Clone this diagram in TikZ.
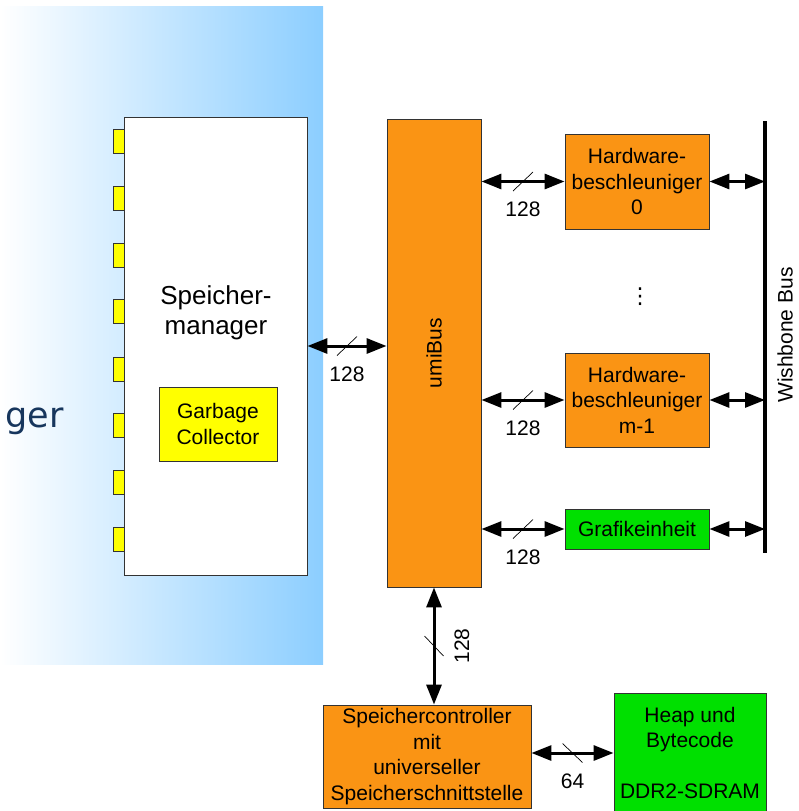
\documentclass[tikz,border=0pt]{standalone}
\usepackage{fontspec}
\setmainfont{Liberation Sans}
\newfontfamily\titlefont{DejaVu Sans}
\usetikzlibrary{arrows.meta,decorations.markings}
\definecolor{cUmi}{RGB}{250,148,20}
\definecolor{cGreen}{RGB}{0,224,0}
\definecolor{cPort}{RGB}{255,255,0}
\definecolor{cSky}{RGB}{140,206,255}
\definecolor{cNavy}{RGB}{23,54,93}

\tikzset{
  box/.style={draw=black!80,line width=0.9pt,align=center,inner sep=0pt},
  obox/.style={box,fill=cUmi},
  gbox/.style={box,fill=cGreen},
  port/.style={box,fill=cPort,minimum width=11pt,minimum height=24pt},
  bus/.style={line width=3pt,{Triangle[length=20pt,width=15pt]}-{Triangle[length=20pt,width=15pt]}},
  slash/.style={postaction={decorate,decoration={markings,
      mark=at position 0.5 with {\draw[line width=0.7pt,-] (-#1,-9.5pt) -- (#1,9.5pt);}}}},
  slash/.default=10pt,
  wlabel/.style={midway,below,inner sep=19pt},
}

\begin{document}
\begin{tikzpicture}[x=1pt,y=-1pt,font=\fontsize{21}{25.5}\selectfont]
  \useasboundingbox (0,0) rectangle (798,811);
  % background of the slide
  \shade[left color=white,right color=cSky] (0,6) rectangle (323,664);
  \node[anchor=base east,inner sep=0pt,text=cNavy,font=\titlefont\fontsize{35}{40}\selectfont] (title) at (64,427) {ger};

  % Speichermanager with its ports
  \node[box,fill=white,minimum width=183pt,minimum height=458pt] (sm) at (215.5,346) {};
  \node[align=center,font=\fontsize{26}{30}\selectfont] (smlabel) at (216,313) {Speicher-\\manager};
  \node[box,fill=cPort,minimum width=118pt,minimum height=74pt] (gc) at (218,424) {Garbage\\Collector};
  \foreach \y [count=\i] in {141,198,255,311,369,425,482,539}
    \node[port] (p\i) at (118.5,\y) {};

  % bus and accelerators
  \node[obox,minimum width=94pt,minimum height=468pt] (umi) at (434,353) {\rotatebox{90}{umiBus}};
  \node[obox,minimum width=144pt,minimum height=95pt] (hw0) at (637,181.5) {Hardware-\\beschleuniger\\0};
  \node[font=\titlefont\fontsize{22}{26}\selectfont] (dots) at (640,297) {⋮};
  \node[obox,minimum width=144pt,minimum height=94pt] (hwm) at (637,400) {Hardware-\\beschleuniger\\m-1};
  \node[gbox,minimum width=144pt,minimum height=40pt] (gfx) at (637,529) {Grafikeinheit};

  \coordinate (wbtop) at (765,121);
  \coordinate (wbbot) at (765,553);
  \draw[line width=3.5pt] (wbtop) -- (wbbot);
  \node (wblabel) at (785,335) {\rotatebox{90}{Wishbone Bus}};

  % memory side
  \node[obox,minimum width=208pt,minimum height=103pt] (ctrl) at (427,756.5) {Speichercontroller\\mit\\universeller\\Speicherschnittstelle};
  \node[gbox,minimum width=152pt,minimum height=120pt] (heap) at (690,753) {Heap und\\Bytecode\\[25.5pt]DDR2-SDRAM};

  % connections
  \draw[bus,slash] (sm.east) -- (sm.east -| umi.west) node[wlabel] {128};
  \draw[bus,slash] (hw0.west -| umi.east) -- (hw0.west) node[wlabel] {128};
  \draw[bus,slash] (hwm.west -| umi.east) -- (hwm.west) node[wlabel] {128};
  \draw[bus,slash] (gfx.west -| umi.east) -- (gfx.west) node[wlabel] {128};
  \draw[bus] (hw0.east) -- (hw0.east -| wbtop);
  \draw[bus] (hwm.east) -- (hwm.east -| wbtop);
  \draw[bus] (gfx.east) -- (gfx.east -| wbtop);
  \draw[bus,slash] (umi.south |- ctrl.north) -- (umi.south) node[wlabel,sloped] {128};
  \draw[bus,slash=-10pt] (heap.west -| ctrl.east) -- (heap.west) node[wlabel] {64};
\end{tikzpicture}
\end{document}
